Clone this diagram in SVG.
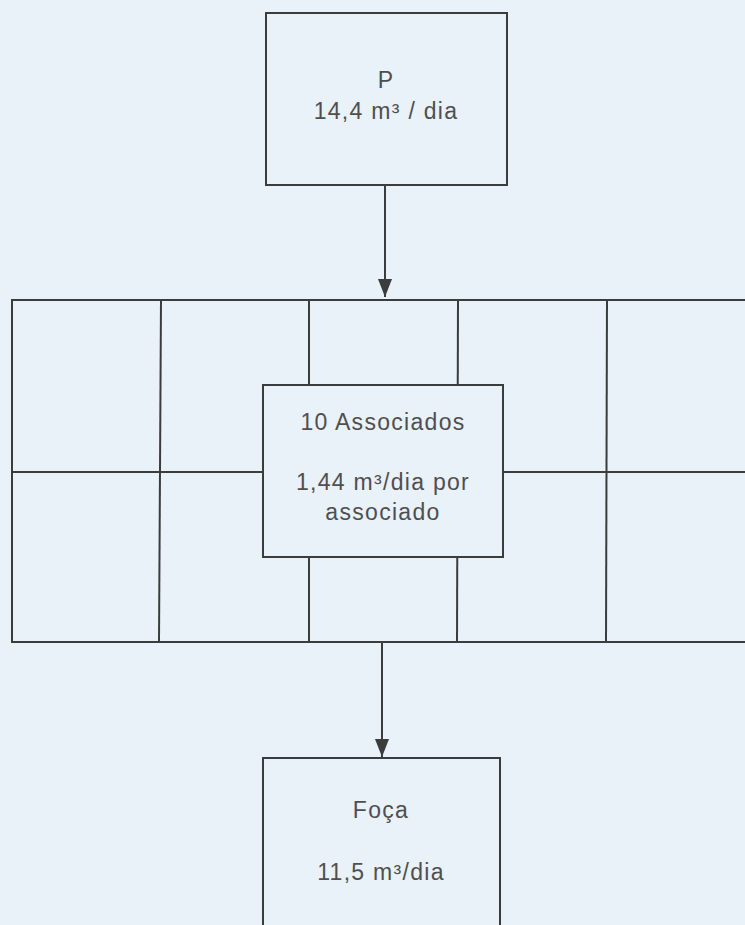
<svg xmlns="http://www.w3.org/2000/svg" width="745" height="925" viewBox="0 0 745 925">
<defs>
<style>
.ln{stroke:#3a3d3c;stroke-width:2;fill:none}
.bx{stroke:#3a3d3c;stroke-width:2;fill:#e9f1f9}
.t{font-family:"Liberation Sans",Arial,sans-serif;font-size:23px;letter-spacing:1.3px;fill:#4f4f4f;text-anchor:middle}
</style>
<marker id="ah" viewBox="0 0 18 14" refX="18" refY="7" markerWidth="18" markerHeight="14" orient="auto" markerUnits="userSpaceOnUse">
<path d="M0,0 L18,7 L0,14 z" fill="#3a3d3c"/>
</marker>
</defs>
<rect width="745" height="925" fill="#e9f1f9"/>
<g id="grid">
<rect class="ln" x="12" y="300" width="740" height="342"/>
<line class="ln" x1="12" y1="472" x2="745" y2="472"/>
<line class="ln" x1="161" y1="300" x2="159" y2="642"/>
<line class="ln" x1="309" y1="300" x2="309" y2="642"/>
<line class="ln" x1="458" y1="300" x2="457" y2="642"/>
<line class="ln" x1="607" y1="300" x2="606" y2="642"/>
</g>
<g id="connectors">
<line class="ln" x1="385" y1="185" x2="385" y2="297" marker-end="url(#ah)"/>
<line class="ln" x1="382" y1="642" x2="382" y2="757" marker-end="url(#ah)"/>
</g>
<g id="node-p">
<rect class="bx" x="266" y="13" width="241" height="172"/>
<text class="t" x="386" y="88">P</text>
<text class="t" x="386" y="119">14,4 m³ / dia</text>
</g>
<g id="node-associados">
<rect class="bx" x="263" y="385" width="240" height="172"/>
<text class="t" x="383" y="430">10 Associados</text>
<text class="t" x="383" y="490">1,44 m³/dia por</text>
<text class="t" x="383" y="520">associado</text>
</g>
<g id="node-foca">
<rect class="bx" x="263" y="758" width="237" height="180"/>
<text class="t" x="381" y="818">Foça</text>
<text class="t" x="381" y="880">11,5 m³/dia</text>
</g>
</svg>
